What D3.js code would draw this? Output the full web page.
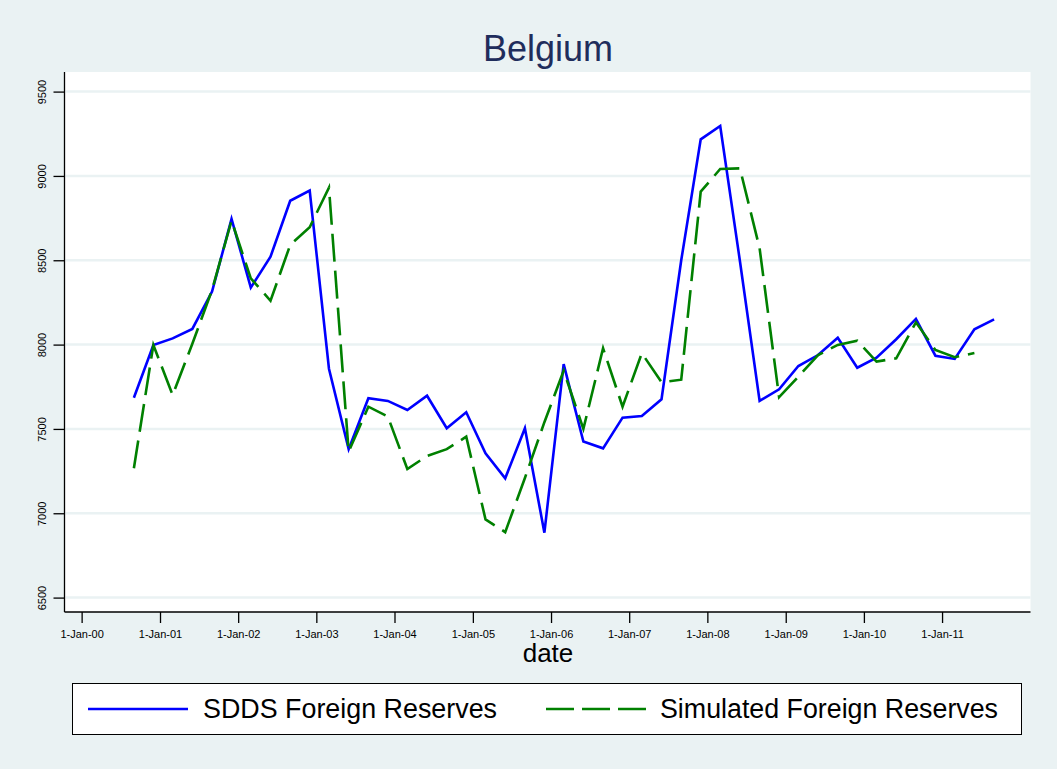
<!DOCTYPE html>
<html>
<head>
<meta charset="utf-8">
<script src="https://cdn.jsdelivr.net/npm/d3@7"></script>
<style>
  html, body { margin: 0; padding: 0; background: #eaf2f3; }
  svg { display: block; }
  text { font-family: "Liberation Sans", Arial, sans-serif; }
</style>
</head>
<body>
<svg id="chart" width="1057" height="769"></svg>
<script>
const title = "Belgium";
const xTitle = "date";
const seriesNames = ["SDDS Foreign Reserves", "Simulated Foreign Reserves"];

const dates = [
  "2000-09-01","2000-12-01","2001-03-01","2001-06-01","2001-09-01","2001-12-01",
  "2002-03-01","2002-06-01","2002-09-01","2002-12-01","2003-03-01","2003-06-01",
  "2003-09-01","2003-12-01","2004-03-01","2004-06-01","2004-09-01","2004-12-01",
  "2005-03-01","2005-06-01","2005-09-01","2005-12-01","2006-03-01","2006-06-01",
  "2006-09-01","2006-12-01","2007-03-01","2007-06-01","2007-09-01","2007-12-01",
  "2008-03-01","2008-06-01","2008-09-01","2008-12-01","2009-03-01","2009-06-01",
  "2009-09-01","2009-12-01","2010-03-01","2010-06-01","2010-09-01","2010-12-01",
  "2011-03-01","2011-06-01","2011-09-01"
];

const sdds = [
  7685, 7998, 8037, 8093, 8314, 8745,
  8338, 8521, 8853, 8913, 7857, 7380,
  7682, 7666, 7612, 7697, 7504, 7599,
  7356, 7207, 7504, 6885, 7884, 7425,
  7385, 7567, 7577, 7676, 8500, 9217,
  9296, 8496, 7666, 7735, 7873, 7938,
  8041, 7863, 7922, 8032, 8152, 7934,
  7915, 8091, 8150
];

const simulated = [
  7267, 7998, 7701, 8005, 8324, 8735,
  8393, 8260, 8591, 8696, 8930, 7365,
  7632, 7573, 7262, 7340, 7380, 7454,
  6964, 6888, 7209, 7540, 7845, 7500,
  7978, 7632, 7949, 7777, 7792, 8907,
  9041, 9045, 8571, 7688, 7810, 7938,
  7998, 8023, 7899, 7919, 8132, 7968,
  7925, 7950, null
];

const yTicks = [6500, 7000, 7500, 8000, 8500, 9000, 9500];
const xTickDates = ["2000-01-01","2001-01-01","2002-01-01","2003-01-01","2004-01-01","2005-01-01",
                    "2006-01-01","2007-01-01","2008-01-01","2009-01-01","2010-01-01","2011-01-01"];
const xTickLabels = ["1-Jan-00","1-Jan-01","1-Jan-02","1-Jan-03","1-Jan-04","1-Jan-05",
                     "1-Jan-06","1-Jan-07","1-Jan-08","1-Jan-09","1-Jan-10","1-Jan-11"];

const colors = { sdds: "#0000ff", sim: "#008000", bg: "#eaf2f3", grid: "#eaf2f3", title: "#1f2d5c" };

const svg = d3.select("#chart");
const W = 1057, H = 769;
const plot = { left: 64.5, right: 1030.5, top: 72, bottom: 612 };

svg.append("rect").attr("width", W).attr("height", H).attr("fill", colors.bg);
svg.append("rect")
  .attr("x", plot.left).attr("y", plot.top)
  .attr("width", plot.right - plot.left).attr("height", plot.bottom - plot.top)
  .attr("fill", "#ffffff");

const parse = d3.utcParse("%Y-%m-%d");
const x = d3.scaleUtc()
  .domain([Date.UTC(1999, 9, 13), Date.UTC(2012, 1, 18)])
  .range([plot.left, plot.right]);
const y = d3.scaleLinear()
  .domain([6414.6, 9616.2])
  .range([plot.bottom, plot.top]);

// gridlines
svg.append("g").selectAll("line").data(yTicks).join("line")
  .attr("x1", plot.left + 1).attr("x2", plot.right)
  .attr("y1", d => y(d)).attr("y2", d => y(d))
  .attr("stroke", colors.grid).attr("stroke-width", 2.5);

// y axis
const yAxis = d3.axisLeft(y).tickValues(yTicks).tickSize(11).tickFormat(d3.format("d"));
const gy = svg.append("g").attr("transform", `translate(${plot.left},0)`).call(yAxis);
gy.select(".domain").attr("d", `M0,${plot.top}V${plot.bottom}`).attr("stroke", "#000").attr("stroke-width", 1.3);
gy.selectAll(".tick line").attr("stroke", "#000").attr("stroke-width", 1.3);
gy.selectAll(".tick text")
  .attr("x", null).attr("dy", null)
  .attr("text-anchor", "middle")
  .attr("transform", "translate(-18.5,0) rotate(-90)")
  .attr("font-size", 11).attr("fill", "#000")
  .attr("font-family", "Liberation Sans, Arial, sans-serif");

// x axis
const xAxis = d3.axisBottom(x)
  .tickValues(xTickDates.map(parse))
  .tickSize(11)
  .tickFormat((d, i) => xTickLabels[i]);
const gx = svg.append("g").attr("transform", `translate(0,${plot.bottom})`).call(xAxis);
gx.select(".domain").attr("d", `M${plot.left},0H${plot.right}`).attr("stroke", "#000").attr("stroke-width", 1.3);
gx.selectAll(".tick line").attr("stroke", "#000").attr("stroke-width", 1.3);
gx.selectAll(".tick text")
  .attr("y", 26).attr("dy", null)
  .attr("font-size", 11).attr("fill", "#000")
  .attr("font-family", "Liberation Sans, Arial, sans-serif");

// lines
const pts = (vals) => dates.map((d, i) => ({ date: parse(d), v: vals[i] }));
const line = d3.line()
  .defined(d => d.v != null)
  .x(d => x(d.date)).y(d => y(d.v));

svg.append("path").datum(pts(sdds))
  .attr("d", line).attr("fill", "none")
  .attr("stroke", colors.sdds).attr("stroke-width", 2.6)
  .attr("stroke-linejoin", "miter");

svg.append("path").datum(pts(simulated))
  .attr("d", line).attr("fill", "none")
  .attr("stroke", colors.sim).attr("stroke-width", 2.6)
  .attr("stroke-dasharray", "28,9")
  .attr("stroke-linejoin", "miter");

// title
svg.append("text").attr("x", 548).attr("y", 61)
  .attr("text-anchor", "middle").attr("font-size", 36)
  .attr("fill", colors.title).text(title);

// x title
svg.append("text").attr("x", 548).attr("y", 662)
  .attr("text-anchor", "middle").attr("font-size", 26)
  .attr("fill", "#000").text(xTitle);

// legend
const lg = svg.append("g");
lg.append("rect").attr("x", 72.5).attr("y", 683.5).attr("width", 949).attr("height", 51)
  .attr("fill", "#fff").attr("stroke", "#000").attr("stroke-width", 1);
lg.append("line").attr("x1", 88).attr("x2", 188).attr("y1", 709).attr("y2", 709)
  .attr("stroke", colors.sdds).attr("stroke-width", 2.6);
lg.append("text").attr("x", 203).attr("y", 718).attr("font-size", 27)
  .attr("textLength", 294).attr("lengthAdjust", "spacingAndGlyphs")
  .attr("fill", "#000").text(seriesNames[0]);
lg.append("line").attr("x1", 546).attr("x2", 646).attr("y1", 709).attr("y2", 709)
  .attr("stroke", colors.sim).attr("stroke-width", 2.6).attr("stroke-dasharray", "28,8");
lg.append("text").attr("x", 660).attr("y", 718).attr("font-size", 27)
  .attr("textLength", 338).attr("lengthAdjust", "spacingAndGlyphs")
  .attr("fill", "#000").text(seriesNames[1]);
</script>
</body>
</html>
